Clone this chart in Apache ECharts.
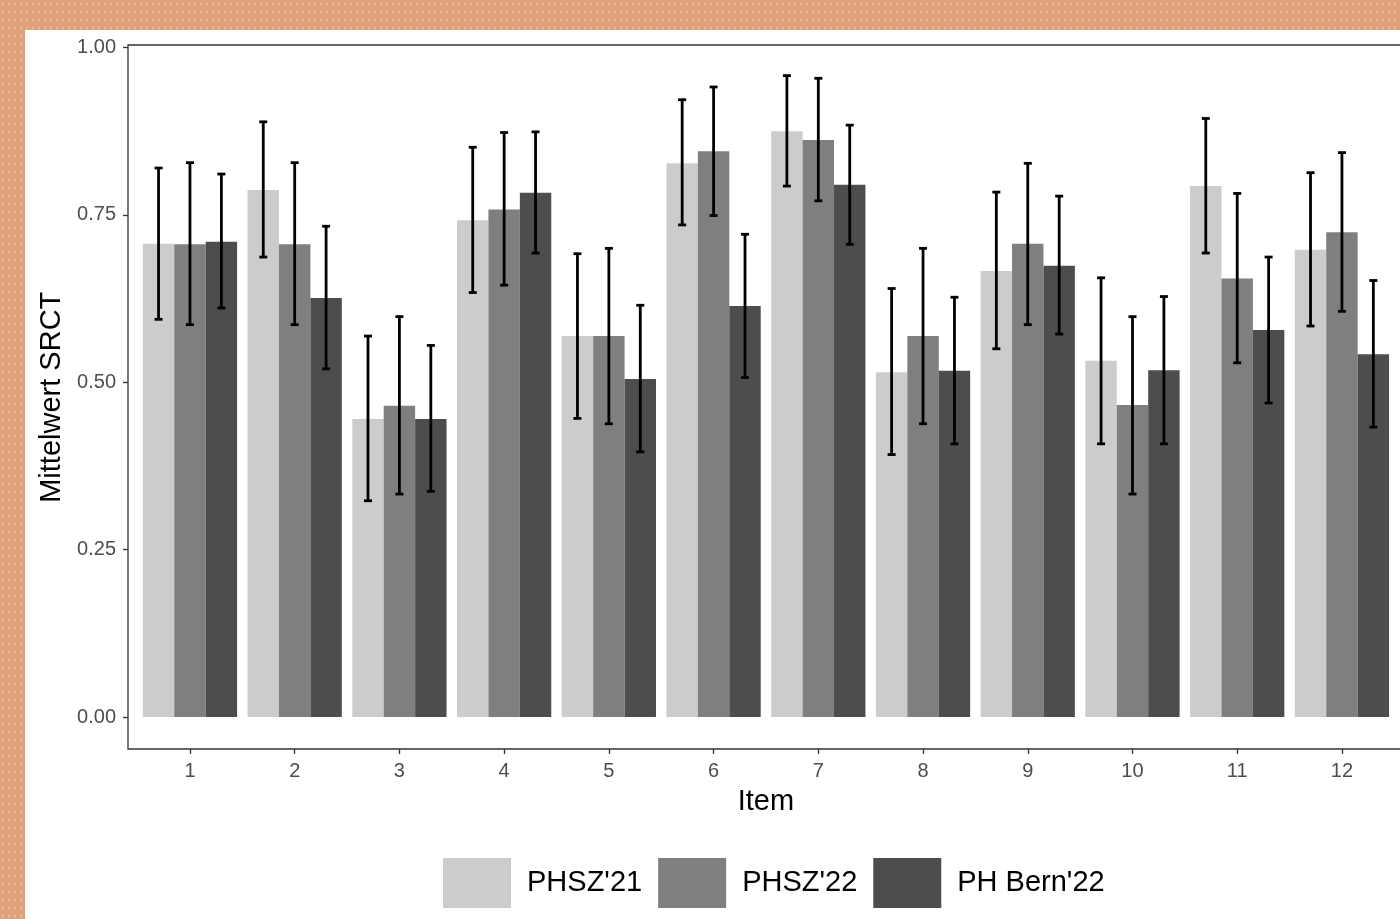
<!DOCTYPE html>
<html>
<head>
<meta charset="utf-8">
<script src="https://cdn.jsdelivr.net/npm/echarts@6/dist/echarts.min.js"></script>
<style>
    html, body {
        margin: 0;
        padding: 0;
        width: 1400px;
        height: 919px;
        overflow: hidden;
        background-color: #dfa17b;
        background-image: radial-gradient(#e9b999 1px, transparent 1.3px);
        background-size: 6px 8px;
    }
    #chart {
        position: absolute;
        left: 25px;
        top: 30px;
        width: 1375px;
        height: 889px;
        background: #ffffff;
    }
</style>
</head>
<body>
<div id="chart"></div>
<script>
    // Items 1..12
    const items = ["1", "2", "3", "4", "5", "6", "7", "8", "9", "10", "11", "12"];
    const yTicks = [0, 0.25, 0.5, 0.75, 1];

    const groupNames = ["PHSZ'21", "PHSZ'22", "PH Bern'22"];
    const groupColors = ["#cccccc", "#7f7f7f", "#4d4d4d"];

    // Mittelwerte
    const meanPHSZ21 = [0.707, 0.787, 0.445, 0.742, 0.569, 0.827, 0.875, 0.515, 0.666, 0.532, 0.793, 0.698];
    const meanPHSZ22 = [0.706, 0.706, 0.465, 0.758, 0.569, 0.845, 0.862, 0.569, 0.707, 0.466, 0.655, 0.724];
    const meanBern22 = [0.710, 0.626, 0.445, 0.783, 0.505, 0.614, 0.795, 0.517, 0.674, 0.518, 0.578, 0.542];

    // Fehlerbalken unten / oben
    const lowPHSZ21 = [0.594, 0.687, 0.323, 0.634, 0.446, 0.735, 0.793, 0.392, 0.550, 0.408, 0.693, 0.584];
    const highPHSZ21 = [0.820, 0.889, 0.569, 0.851, 0.692, 0.922, 0.958, 0.640, 0.784, 0.656, 0.894, 0.813];
    const lowPHSZ22 = [0.586, 0.586, 0.333, 0.645, 0.438, 0.749, 0.771, 0.438, 0.586, 0.333, 0.529, 0.606];
    const highPHSZ22 = [0.828, 0.828, 0.598, 0.873, 0.700, 0.941, 0.954, 0.700, 0.827, 0.598, 0.782, 0.843];
    const lowBern22 = [0.611, 0.520, 0.337, 0.693, 0.396, 0.507, 0.706, 0.408, 0.572, 0.408, 0.469, 0.433];
    const highBern22 = [0.811, 0.733, 0.555, 0.874, 0.615, 0.721, 0.884, 0.627, 0.778, 0.628, 0.687, 0.652];

    const means = [meanPHSZ21, meanPHSZ22, meanBern22];
    const lows = [lowPHSZ21, lowPHSZ22, lowBern22];
    const highs = [highPHSZ21, highPHSZ22, highBern22];

    const fontName = "Liberation Sans, Arial, Helvetica, sans-serif";
    const barShare = 0.3;

    var myChart = echarts.init(document.getElementById("chart"));

    // Fehlerbalken zeichnen
    function makeErrorRender(k) {
        return function (params, api) {
            var idx = api.value(0);
            var band = api.size([1, 0])[0];
            var barW = band * barShare;
            var top = api.coord([idx, api.value(2)]);
            var bottom = api.coord([idx, api.value(1)]);
            var x = top[0] + (k - 1) * barW;
            var cap = 4;
            var style = { stroke: "#000000", lineWidth: 2.8, fill: null };
            return {
                type: "group",
                children: [
                    { type: "line", shape: { x1: x, y1: top[1], x2: x, y2: bottom[1] }, style: style },
                    { type: "line", shape: { x1: x - cap, y1: top[1], x2: x + cap, y2: top[1] }, style: style },
                    { type: "line", shape: { x1: x - cap, y1: bottom[1], x2: x + cap, y2: bottom[1] }, style: style }
                ]
            };
        };
    }

    var series = [];
    for (var k = 0; k < 3; k++) {
        series.push({
            name: groupNames[k],
            type: "bar",
            data: means[k],
            barWidth: (barShare * 100) + "%",
            barGap: "0%",
            itemStyle: { color: groupColors[k] },
            z: 2
        });
    }
    for (var k = 0; k < 3; k++) {
        var errData = [];
        for (var i = 0; i < items.length; i++) {
            errData.push([i, lows[k][i], highs[k][i]]);
        }
        series.push({
            type: "custom",
            renderItem: makeErrorRender(k),
            data: errData,
            encode: { x: 0, y: [1, 2] },
            z: 5,
            silent: true
        });
    }

    var option = {
        animation: false,
        textStyle: { fontFamily: fontName },
        grid: {
            left: 112.6,
            top: 17.5,
            width: 1256.7,
            height: 669.5
        },
        legend: {
            data: groupNames,
            left: 413,
            top: 823,
            icon: "rect",
            itemWidth: 68,
            itemHeight: 50,
            itemGap: 16,
            textStyle: {
                fontFamily: fontName,
                fontSize: 29,
                color: "#000000",
                padding: [0, 0, 0, 11]
            }
        },
        xAxis: {
            type: "category",
            data: items,
            offset: 32,
            name: "Item",
            nameLocation: "middle",
            nameGap: 38,
            nameTextStyle: { fontSize: 29, color: "#000000", fontFamily: fontName },
            axisLine: { show: false, onZero: false },
            axisTick: { show: true, alignWithLabel: true, length: 5, lineStyle: { color: "#333333", width: 1.3 } },
            axisLabel: { fontSize: 20, color: "#4d4d4d", margin: 12, fontFamily: fontName },
            splitLine: { show: false }
        },
        yAxis: {
            type: "value",
            min: yTicks[0],
            max: yTicks[yTicks.length - 1],
            interval: 0.25,
            offset: 9.6,
            name: "Mittelwert SRCT",
            nameLocation: "middle",
            nameGap: 62,
            nameTextStyle: {
                fontSize: 29,
                color: "#000000",
                fontFamily: fontName,
                padding: [0, 30, 0, 0]
            },
            axisLine: { show: false },
            axisTick: { show: true, length: 5, lineStyle: { color: "#333333", width: 1.3 } },
            axisLabel: {
                fontSize: 20,
                color: "#4d4d4d",
                margin: 12,
                fontFamily: fontName,
                formatter: function (v) { return v.toFixed(2); }
            },
            splitLine: { show: false }
        },
        // Rahmen um das Panel
        graphic: [
            {
                type: "rect",
                shape: { x: 103, y: 15, width: 1320, height: 704 },
                style: { fill: null, stroke: "#333333", lineWidth: 1.3 },
                silent: true,
                z: 10
            }
        ],
        series: series
    };

    option && myChart.setOption(option);
</script>
</body>
</html>
